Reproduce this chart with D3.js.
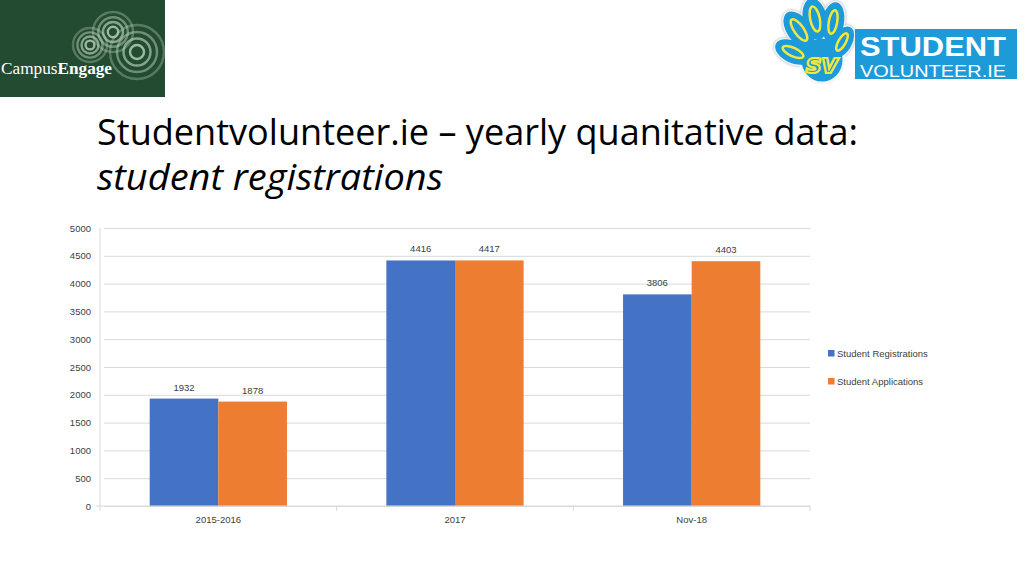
<!DOCTYPE html>
<html>
<head>
<meta charset="utf-8">
<script src="https://cdn.jsdelivr.net/npm/d3@7"></script>
<style>
  body { margin: 0; background: #fff; }
  svg { display: block; }
  text { font-family: "Open Sans", "Liberation Sans", sans-serif; }
</style>
</head>
<body>
<div id="svg-wrapper"></div>
<script>
// les données
var categories = ["2015-2016", "2017", "Nov-18"];
var seriesNames = ["Student Registrations", "Student Applications"];
var registrations = [1932, 4416, 3806];
var applications = [1878, 4417, 4403];
var yTicks = [0, 500, 1000, 1500, 2000, 2500, 3000, 3500, 4000, 4500, 5000];
var colors = ["#4472C4", "#ED7D31"];

var width = 1024,
    height = 576;

var svg = d3.select("#svg-wrapper")
    .append("svg")
    .attr("width", width)
    .attr("height", height);

// ---- logo CampusEngage (en haut à gauche)
var logoL = svg.append("g");
logoL.append("rect").attr("x", 0).attr("y", 0).attr("width", 165).attr("height", 97).attr("fill", "#234b32");
var cercles = [[113, 32, 20], [90, 45, 17], [137, 52, 27]];
cercles.forEach(function (c) {
    [1, 0.74, 0.5, 0.26].forEach(function (k, i) {
        logoL.append("circle")
            .attr("cx", c[0]).attr("cy", c[1]).attr("r", c[2] * k)
            .attr("fill", "none")
            .attr("stroke", "#bcd4bb")
            .attr("stroke-opacity", 0.35 + i * 0.15)
            .attr("stroke-width", 2.4);
    });
});
var ce = logoL.append("text")
    .attr("x", 1).attr("y", 74)
    .style("font-family", "'Liberation Serif', 'DejaVu Serif', serif")
    .style("font-size", "17px")
    .attr("textLength", 111).attr("lengthAdjust", "spacingAndGlyphs")
    .attr("fill", "#ffffff");
ce.append("tspan").text("Campus");
ce.append("tspan").style("font-weight", "bold").text("Engage");

// ---- logo studentvolunteer.ie (en haut à droite)
var logoR = svg.append("g");

// la main : doigts + paume (dessinée avant le bandeau bleu)
var doigts = [[793, 52, 7, 15, -65], [799, 30, 8, 17, -35], [815, 19, 8, 17, -12], [833, 22, 7, 16, 10], [842, 42, 6, 13, 30]];
var main = logoR.append("g");
doigts.forEach(function (f) {
    main.append("ellipse").attr("cx", f[0]).attr("cy", f[1]).attr("rx", f[2] + 4).attr("ry", f[3] + 4)
        .attr("transform", "rotate(" + f[4] + "," + f[0] + "," + f[1] + ")")
        .attr("fill", "#1d9ad8").attr("stroke", "#f2f6f8").attr("stroke-width", 3)
        .style("filter", "drop-shadow(0 0 1px #999)");
});
main.append("ellipse").attr("cx", 822).attr("cy", 60).attr("rx", 22).attr("ry", 23)
    .attr("fill", "#1d9ad8").attr("stroke", "#f2f6f8").attr("stroke-width", 3);
doigts.forEach(function (f) {
    main.append("ellipse").attr("cx", f[0]).attr("cy", f[1]).attr("rx", f[2] + 4).attr("ry", f[3] + 4)
        .attr("transform", "rotate(" + f[4] + "," + f[0] + "," + f[1] + ")")
        .attr("fill", "#1d9ad8");
    main.append("ellipse").attr("cx", f[0]).attr("cy", f[1]).attr("rx", f[2] * 0.6).attr("ry", f[3] * 0.75)
        .attr("transform", "rotate(" + f[4] + "," + f[0] + "," + f[1] + ")")
        .attr("fill", "none").attr("stroke", "#f3e73a").attr("stroke-width", 2.5);
});
main.append("text").attr("x", 822).attr("y", 73).attr("text-anchor", "middle")
    .style("font-family", "'DejaVu Sans', sans-serif").style("font-style", "italic")
    .style("font-weight", "bold").style("font-size", "26px")
    .attr("fill", "none").attr("stroke", "#f3e73a").attr("stroke-width", 2.2).text("sv");

logoR.append("rect").attr("x", 855).attr("y", 29).attr("width", 162).attr("height", 50).attr("fill", "#1d9ad8");
logoR.append("text").attr("x", 860).attr("y", 56)
    .style("font-family", "'Liberation Sans', sans-serif")
    .style("font-weight", "bold").style("font-size", "27px")
    .attr("textLength", 146).attr("lengthAdjust", "spacingAndGlyphs")
    .attr("fill", "#fff").text("STUDENT");
logoR.append("text").attr("x", 860).attr("y", 77)
    .style("font-family", "'Liberation Sans', sans-serif")
    .style("font-size", "16px")
    .attr("textLength", 146).attr("lengthAdjust", "spacingAndGlyphs")
    .attr("fill", "#fff").text("VOLUNTEER.IE");

// ---- titre
svg.append("text").attr("x", 97).attr("y", 145)
    .style("font-size", "36px").attr("fill", "#000")
    .attr("textLength", 761).attr("lengthAdjust", "spacingAndGlyphs")
    .text("Studentvolunteer.ie \u2013 yearly quanitative data:");
svg.append("text").attr("x", 97).attr("y", 190)
    .style("font-size", "36px").style("font-style", "italic").attr("fill", "#000")
    .attr("textLength", 346).attr("lengthAdjust", "spacingAndGlyphs")
    .text("student registrations");

// ---- graphique
var plot = { left: 100, right: 810, top: 228, bottom: 506 };

var x0 = d3.scaleBand()
    .domain(categories)
    .range([plot.left, plot.right])
    .paddingInner(0.42)
    .paddingOuter(0.21);

var x1 = d3.scaleBand()
    .domain(seriesNames)
    .range([0, x0.bandwidth()]);

var y = d3.scaleLinear()
    .domain([0, 5000])
    .range([plot.bottom, plot.top]);

var petit = "'Liberation Sans', sans-serif";
var g = svg.append("g");

// lignes de la grille
g.append("g")
    .attr("transform", "translate(" + plot.left + ",0)")
    .call(d3.axisLeft(y).tickValues(yTicks).tickFormat(d3.format("d"))
        .tickSize(-(plot.right - plot.left)).tickSizeOuter(0).tickPadding(9))
    .call(function (a) {
        a.select(".domain").remove();
        a.selectAll(".tick line").attr("stroke", "#d9d9d9").attr("x1", 4);
        a.selectAll(".tick text").attr("fill", "#404040").style("font-size", "9.5px")
            .style("font-family", petit);
    });

// axe vertical
g.append("line")
    .attr("x1", plot.left).attr("x2", plot.left)
    .attr("y1", plot.top).attr("y2", plot.bottom)
    .attr("stroke", "#d9d9d9");

var data = categories.map(function (c, i) {
    return { cat: c, values: [registrations[i], applications[i]] };
});

var groupes = g.selectAll(".grp")
    .data(data)
    .join("g")
    .attr("class", "grp")
    .attr("transform", function (d) { return "translate(" + x0(d.cat) + ",0)"; });

groupes.selectAll("rect")
    .data(function (d) { return d.values.map(function (v, j) { return { name: seriesNames[j], v: v, j: j }; }); })
    .join("rect")
    .attr("x", function (d) { return x1(d.name); })
    .attr("y", function (d) { return y(d.v); })
    .attr("width", x1.bandwidth())
    .attr("height", function (d) { return y(0) - y(d.v); })
    .attr("fill", function (d) { return colors[d.j]; });

// étiquettes de valeurs
groupes.selectAll(".lbl")
    .data(function (d) { return d.values.map(function (v, j) { return { name: seriesNames[j], v: v }; }); })
    .join("text")
    .attr("class", "lbl")
    .attr("x", function (d) { return x1(d.name) + x1.bandwidth() / 2; })
    .attr("y", function (d) { return y(d.v) - 8; })
    .attr("text-anchor", "middle")
    .attr("fill", "#404040")
    .style("font-size", "9.5px")
    .style("font-family", petit)
    .text(function (d) { return d.v; });

// axe des catégories
var xAxisScale = d3.scalePoint().domain(d3.range(categories.length + 1)).range([plot.left, plot.right]);
var axeX = g.append("g");
axeX.append("line")
    .attr("x1", plot.left - 4).attr("x2", plot.right)
    .attr("y1", plot.bottom).attr("y2", plot.bottom)
    .attr("stroke", "#d9d9d9");
axeX.selectAll(".tk")
    .data(d3.range(categories.length + 1))
    .join("line")
    .attr("x1", function (d) { return xAxisScale(d); })
    .attr("x2", function (d) { return xAxisScale(d); })
    .attr("y1", plot.bottom).attr("y2", plot.bottom + 5)
    .attr("stroke", "#d9d9d9");
axeX.selectAll(".cl")
    .data(categories)
    .join("text")
    .attr("x", function (d) { return x0(d) + x0.bandwidth() / 2; })
    .attr("y", plot.bottom + 17)
    .attr("text-anchor", "middle")
    .attr("fill", "#404040")
    .style("font-size", "9.5px")
    .style("font-family", petit)
    .text(function (d) { return d; });

// légende
var legende = g.selectAll(".leg")
    .data(seriesNames)
    .join("g")
    .attr("class", "leg")
    .attr("transform", function (d, i) { return "translate(828," + (350 + i * 28) + ")"; });
legende.append("rect").attr("width", 6.5).attr("height", 6.5)
    .attr("fill", function (d, i) { return colors[i]; });
legende.append("text").attr("x", 9).attr("y", 6.5)
    .attr("fill", "#404040")
    .style("font-size", "9.5px")
    .style("font-family", petit)
    .text(function (d) { return d; });
</script>
</body>
</html>
